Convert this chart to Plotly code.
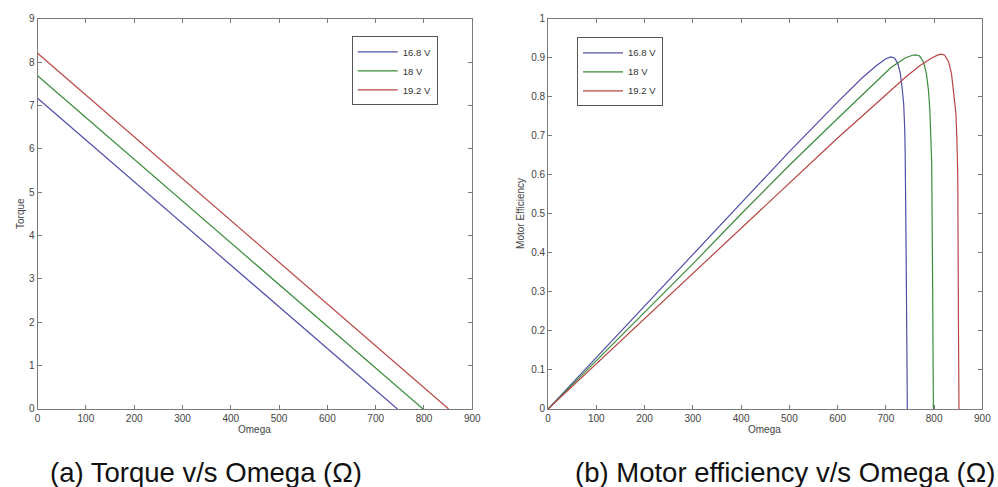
import plotly.graph_objects as go

# Torque vs omega (straight lines: stall torque to no-load speed)
torque_omega = {
    "16.8 V": [0, 745],
    "18 V": [0, 798],
    "19.2 V": [0, 851],
}
torque_vals = {
    "16.8 V": [7.17, 0],
    "18 V": [7.69, 0],
    "19.2 V": [8.21, 0],
}

# Motor efficiency vs omega
eff_omega_168 = [0, 100, 200, 300, 400, 500, 600, 650, 680, 700, 710, 718, 725, 730,
                 734, 737, 739, 740, 742, 743, 744.5]
eff_168 = [0, 0.132, 0.265, 0.397, 0.53, 0.66, 0.787, 0.848, 0.88, 0.898, 0.903, 0.9,
           0.885, 0.86, 0.82, 0.78, 0.72, 0.66, 0.4, 0.18, 0]

eff_omega_18 = [0, 100, 200, 300, 400, 500, 600, 650, 680, 710, 740, 755, 762, 770,
                778, 784, 788, 791, 793, 795, 797, 798.5]
eff_18 = [0, 0.124, 0.248, 0.372, 0.5, 0.625, 0.745, 0.805, 0.84, 0.875, 0.9, 0.907,
          0.908, 0.905, 0.89, 0.86, 0.82, 0.77, 0.7, 0.63, 0.3, 0]

eff_omega_192 = [0, 100, 200, 300, 400, 500, 600, 650, 700, 740, 770, 795, 808, 815,
                 822, 830, 836, 841, 845, 847, 849, 850.5, 851.5]
eff_192 = [0, 0.116, 0.232, 0.348, 0.465, 0.58, 0.695, 0.75, 0.805, 0.85, 0.88, 0.9,
           0.908, 0.91, 0.907, 0.89, 0.86, 0.81, 0.76, 0.7, 0.6, 0.2, 0]

eff_omega = {"16.8 V": eff_omega_168, "18 V": eff_omega_18, "19.2 V": eff_omega_192}
eff_vals = {"16.8 V": eff_168, "18 V": eff_18, "19.2 V": eff_192}

series = ["16.8 V", "18 V", "19.2 V"]
colors = {"16.8 V": "#4f4fa8", "18 V": "#3a8c3a", "19.2 V": "#b84545"}

x_ticks = [0, 100, 200, 300, 400, 500, 600, 700, 800, 900]
torque_ticks = [0, 1, 2, 3, 4, 5, 6, 7, 8, 9]
eff_ticks = [0, 0.1, 0.2, 0.3, 0.4, 0.5, 0.6, 0.7, 0.8, 0.9, 1]

fig = go.Figure()

for name in series:
    fig.add_trace(go.Scatter(
        x=torque_omega[name], y=torque_vals[name], mode="lines", name=name,
        line=dict(color=colors[name], width=1.2), xaxis="x", yaxis="y",
        legend="legend",
    ))
for name in series:
    fig.add_trace(go.Scatter(
        x=eff_omega[name], y=eff_vals[name], mode="lines", name=name,
        line=dict(color=colors[name], width=1.2), xaxis="x2", yaxis="y2",
        legend="legend2",
    ))

W, H = 998, 487
left_dom = [35 / W, 475 / W]
right_dom = [551.7 / W, 991.3 / W]
y_dom = [(H - 412.3) / H, (H - 13.3) / H]

tick_font = dict(family="Liberation Sans Narrow, Liberation Sans, Arial", size=10, color="#444444")
axis_common = dict(
    showline=True, linecolor="#7a7a7a", linewidth=1, mirror="ticks",
    ticks="inside", ticklen=4, tickcolor="#7a7a7a", tickwidth=1,
    showgrid=False, zeroline=False, tickfont=tick_font,
)

legend_font = dict(family="Liberation Sans", size=9.5, color="#333333")
fig.update_layout(
    width=W, height=H,
    margin=dict(l=0, r=0, t=0, b=0),
    paper_bgcolor="white", plot_bgcolor="white",
    xaxis=dict(domain=left_dom, range=[0, 900], tickvals=x_ticks, anchor="y", **axis_common),
    yaxis=dict(domain=y_dom, range=[0, 9], tickvals=torque_ticks, anchor="x", **axis_common),
    xaxis2=dict(domain=right_dom, range=[0, 900], tickvals=x_ticks, anchor="y2", **axis_common),
    yaxis2=dict(domain=y_dom, range=[0, 1], tickvals=eff_ticks, anchor="x2", **axis_common),
    legend=dict(
        x=353 / W, y=(H - 31) / H, xanchor="left", yanchor="top",
        bgcolor="white", bordercolor="#555555", borderwidth=1,
        font=legend_font, tracegroupgap=0, itemwidth=40,
    ),
    legend2=dict(
        x=581 / W, y=(H - 32) / H, xanchor="left", yanchor="top",
        bgcolor="white", bordercolor="#555555", borderwidth=1,
        font=legend_font, tracegroupgap=0, itemwidth=40,
    ),
    showlegend=True,
)

label_font = dict(family="Liberation Sans Narrow, Liberation Sans, Arial", size=10, color="#444444")
caption_font = dict(family="Liberation Sans", size=27.5, color="#111111")
annotations = [
    dict(text="Omega", x=255 / W, y=(H - 433) / H, xref="paper", yref="paper",
         showarrow=False, font=label_font, xanchor="center", yanchor="middle"),
    dict(text="Omega", x=771 / W, y=(H - 433) / H, xref="paper", yref="paper",
         showarrow=False, font=label_font, xanchor="center", yanchor="middle"),
    dict(text="Torque", x=17 / W, y=(H - 212) / H, xref="paper", yref="paper",
         showarrow=False, font=label_font, textangle=-90, xanchor="center", yanchor="middle"),
    dict(text="Motor Efficiency", x=524 / W, y=(H - 212) / H, xref="paper", yref="paper",
         showarrow=False, font=label_font, textangle=-90, xanchor="center", yanchor="middle"),
    dict(text="(a) Torque v/s Omega (Ω)", x=205 / W, y=(H - 477) / H, xref="paper",
         yref="paper", showarrow=False, font=caption_font,
         xanchor="center", yanchor="middle"),
    dict(text="(b) Motor efficiency v/s Omega (Ω)", x=792 / W, y=(H - 477) / H,
         xref="paper", yref="paper", showarrow=False, font=caption_font,
         xanchor="center", yanchor="middle"),
]
fig.update_layout(annotations=annotations)

fig.write_html("out.html")
